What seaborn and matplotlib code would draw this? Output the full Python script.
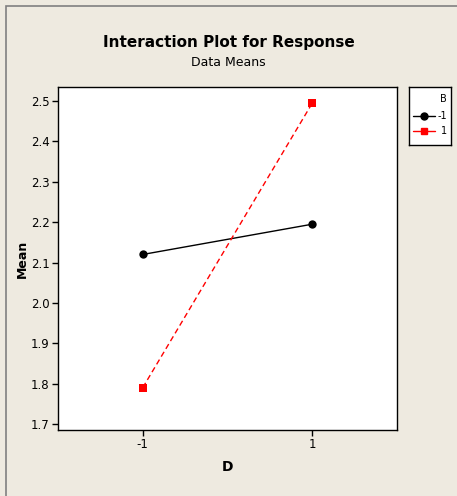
import pandas as pd
import matplotlib.pyplot as plt
import seaborn as sns
from matplotlib import font_manager
from matplotlib.patches import Rectangle

# Data
d_levels = [-1, 1, -1, 1]
b_levels = ["-1", "-1", "1", "1"]
means = [2.12, 2.195, 1.79, 2.495]
yticks = [1.7, 1.8, 1.9, 2.0, 2.1, 2.2, 2.3, 2.4, 2.5]

df = pd.DataFrame({"D": d_levels, "B": b_levels, "Mean": means})

sns.set_style("white")
names = {f.name for f in font_manager.fontManager.ttflist}
narrow = [n for n in ["Liberation Sans Narrow", "DejaVu Sans"] if n in names]
plt.rcParams["font.family"] = narrow
plt.rcParams["text.color"] = "black"
plt.rcParams["axes.labelcolor"] = "black"
plt.rcParams["xtick.color"] = "black"
plt.rcParams["ytick.color"] = "black"

bg = "#EEEAE0"
fig = plt.figure(figsize=(4.57, 4.96), dpi=100, facecolor=bg)
fig.patches.append(Rectangle((6 / 457, -0.01), 1.1, 1.01 - 6 / 496, transform=fig.transFigure,
                             fill=False, edgecolor="#808080", lw=1.2))
ax = fig.add_axes([58 / 457, 1 - 430 / 496, 339 / 457, 343 / 496])

sns.lineplot(data=df, x="D", y="Mean", hue="B", style="B",
             palette={"-1": "black", "1": "red"},
             markers={"-1": "o", "1": "s"},
             dashes={"-1": "", "1": (4, 2.5)},
             markersize=6, markeredgewidth=0, linewidth=1,
             ax=ax, legend=False)

ax.set_xlim(-2, 2)
ax.set_ylim(1.685, 2.535)
ax.set_xticks([-1, 1])
ax.set_xticklabels(["-1", "1"])
ax.set_yticks(yticks)
ax.set_yticklabels([f"{v:.1f}" for v in yticks])
ax.tick_params(axis="both", length=4, width=1, color="black", labelsize=8.5, direction="out",
               bottom=True, left=True, pad=2)
for s in ax.spines.values():
    s.set_color("black")
    s.set_linewidth(1)
ax.set_xlabel("D", fontsize=10, fontweight="bold")
ax.set_ylabel("Mean", fontsize=9, fontweight="bold")
ax.xaxis.set_label_coords(0.5, -0.087)
ax.yaxis.set_label_coords(-0.086, 0.5)

fig.text(0.5, 1 - 42 / 496, "Interaction Plot for Response", ha="center", va="center",
         fontsize=11, fontweight="bold")
fig.text(0.5, 1 - 63 / 496, "Data Means", ha="center", va="center", fontsize=9)

# Legend box
lax = fig.add_axes([409 / 457, 1 - 145 / 496, 42 / 457, 58 / 496])
lax.set_xlim(0, 42)
lax.set_ylim(58, 0)
lax.set_xticks([])
lax.set_yticks([])
for s in lax.spines.values():
    s.set_color("black")
    s.set_linewidth(1)
lax.text(38, 12, "B", ha="right", va="center", fontsize=7)
lax.plot([4, 26], [29, 29], color="black", lw=1)
lax.plot([15], [29], "o", color="black", ms=5)
lax.text(38, 29, "-1", ha="right", va="center", fontsize=7)
lax.plot([4, 26], [44, 44], color="red", lw=1)
lax.plot([15], [44], "s", color="red", ms=5)
lax.text(38, 44, "1", ha="right", va="center", fontsize=7)

fig.savefig("out.png", dpi=100, facecolor=bg)
